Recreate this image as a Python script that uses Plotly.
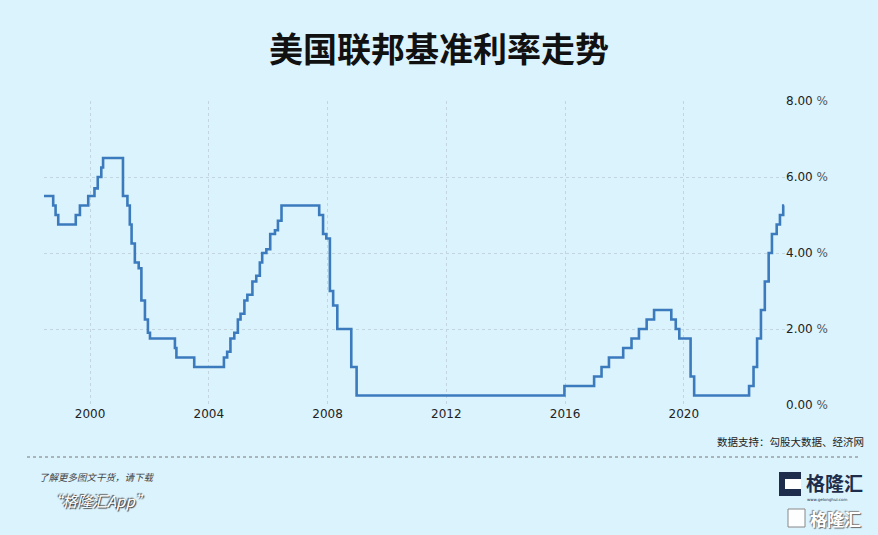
import plotly.graph_objects as go

# Colors
BG = "#dbf3fd"
LINE_BLUE = "#3b7bbd"
GRID = "#c3d6df"
TEXT_DARK = "#1a1a1a"
NAVY = "#1d2d4b"

# Data: Fed funds rate (step points, decimal year -> rate %)
years = [
    1998.45, 1998.76, 1998.84, 1998.93, 1999.52, 1999.66, 1999.94, 2000.15,
    2000.26, 2000.38, 2000.44, 2001.11, 2001.26, 2001.34, 2001.40, 2001.51,
    2001.64, 2001.73, 2001.85, 2001.95, 2002.02, 2002.86, 2002.91, 2003.51,
    2004.51, 2004.62, 2004.73, 2004.86, 2004.98, 2005.07, 2005.20, 2005.30,
    2005.47, 2005.60, 2005.72, 2005.80, 2005.94, 2006.07, 2006.23, 2006.33,
    2006.45, 2007.72, 2007.85, 2007.96, 2008.08, 2008.19, 2008.33, 2008.80,
    2008.98, 2015.98, 2016.98, 2017.23, 2017.48, 2017.96, 2018.24, 2018.49,
    2018.75, 2019.00, 2019.58, 2019.73, 2019.85, 2020.23, 2020.35, 2022.20,
    2022.35, 2022.47, 2022.60, 2022.73, 2022.86, 2022.97, 2023.13, 2023.24,
    2023.35, 2023.38,
]
rates = [
    5.50, 5.25, 5.00, 4.75, 5.00, 5.25, 5.50, 5.70,
    6.00, 6.25, 6.50, 5.50, 5.25, 4.75, 4.25, 3.75,
    3.60, 2.75, 2.25, 1.90, 1.75, 1.50, 1.25, 1.00,
    1.25, 1.40, 1.75, 1.90, 2.25, 2.40, 2.75, 2.90,
    3.25, 3.40, 3.75, 4.00, 4.10, 4.50, 4.60, 4.85,
    5.25, 5.00, 4.50, 4.38, 3.00, 2.62, 2.00, 1.00,
    0.25, 0.50, 0.75, 1.00, 1.25, 1.50, 1.75, 2.00,
    2.25, 2.50, 2.25, 2.00, 1.75, 0.75, 0.25, 0.50,
    1.00, 1.75, 2.50, 3.25, 4.00, 4.50, 4.75, 5.00,
    5.25, 5.25,
]

x_ticks = [2000, 2004, 2008, 2012, 2016, 2020]
x_labels = ["2000", "2004", "2008", "2012", "2016", "2020"]
y_ticks = [0, 2, 4, 6, 8]
y_labels = ["0.00", "2.00", "4.00", "6.00", "8.00"]

TITLE = "美国联邦基准利率走势"
SOURCE = "数据支持：勾股大数据、经济网"

# plot area in pixels: x 44..785, y 101..405
def px(x):
    return (x - 44) / 741

def py(y):
    return (405 - y) / 304

fig = go.Figure()
fig.add_trace(go.Scatter(
    x=years, y=rates, mode="lines", line_shape="hv",
    line={"color": LINE_BLUE, "width": 2.6},
    hoverinfo="skip", showlegend=False,
))

fig.update_layout(
    width=878, height=535,
    margin={"l": 44, "r": 93, "t": 101, "b": 130},
    plot_bgcolor=BG, paper_bgcolor=BG,
    font={"family": "DejaVu Sans", "color": TEXT_DARK},
    xaxis={
        "range": [1998.45, 2023.41],
        "tickvals": x_ticks, "ticktext": x_labels,
        "showgrid": True, "gridcolor": GRID, "griddash": "dot", "gridwidth": 1,
        "zeroline": False, "showline": False, "ticks": "",
        "tickfont": {"size": 12, "color": "#222"},
    },
    yaxis={
        "range": [0, 8], "side": "right",
        "tickvals": y_ticks,
        "ticktext": [t + " <span style='color:#555'>%</span>" for t in y_labels],
        "showgrid": True, "gridcolor": GRID, "griddash": "dot", "gridwidth": 1,
        "zeroline": False, "showline": False, "ticks": "",
        "tickfont": {"size": 12, "color": "#222"},
    },
)

ann = []
ann.append(dict(x=px(439), y=py(48), text="<b>" + TITLE + "</b>",
                font={"family": "Noto Sans CJK SC", "size": 34, "color": "#111"}))
ann.append(dict(x=px(866), y=py(441), text=SOURCE, xanchor="right",
                font={"family": "Noto Sans CJK SC", "size": 10.5, "color": "#222"}))
ann.append(dict(x=px(37), y=py(477), text="<i>了解更多图文干货，请下载</i>", xanchor="left",
                font={"family": "Noto Sans CJK SC", "size": 9.5, "color": "#444"}))
ann.append(dict(x=px(45), y=py(500), text="<i>“格隆汇App”</i>", xanchor="left",
                font={"family": "Noto Sans CJK SC", "size": 15, "color": "white",
                      "shadow": "1px 1px 1px #333, -1px -1px 1px #555"}))
# logo
ann.append(dict(x=px(804), y=py(482), text="<b>格隆汇</b>", xanchor="left",
                font={"family": "Noto Sans CJK SC", "size": 19, "color": NAVY}))
ann.append(dict(x=px(805), y=py(499), text="www.gelonghui.com", xanchor="left",
                font={"family": "DejaVu Sans", "size": 4, "color": NAVY}))
ann.append(dict(x=px(808), y=py(518), text="<b>格隆汇</b>", xanchor="left",
                font={"family": "Noto Sans CJK SC", "size": 17, "color": "white",
                      "shadow": "1px 1px 1px #666, -1px -1px 1px #888"}))
for a in ann:
    a.update(xref="paper", yref="paper", showarrow=False, yanchor="middle")
    a.setdefault("xanchor", "center")
fig.update_layout(annotations=ann)

shapes = [
    dict(type="line", xref="paper", yref="paper", x0=px(27), x1=px(858),
         y0=py(457), y1=py(457), line={"color": "#777", "width": 1, "dash": "dot"}),
    dict(type="rect", xref="paper", yref="paper", x0=px(779), x1=px(801),
         y0=py(496), y1=py(472), fillcolor=NAVY, line={"width": 0}),
    dict(type="rect", xref="paper", yref="paper", x0=px(785), x1=px(801),
         y0=py(489), y1=py(479), fillcolor="white", line={"width": 0}),
    dict(type="rect", xref="paper", yref="paper", x0=px(788), x1=px(805),
         y0=py(527), y1=py(509), fillcolor="rgba(255,255,255,0.9)",
         line={"width": 1, "color": "#888"}),
]
fig.update_layout(shapes=shapes)

fig.write_html("out.html", config={"displayModeBar": False},
               post_script="document.body.style.margin='0px';")
